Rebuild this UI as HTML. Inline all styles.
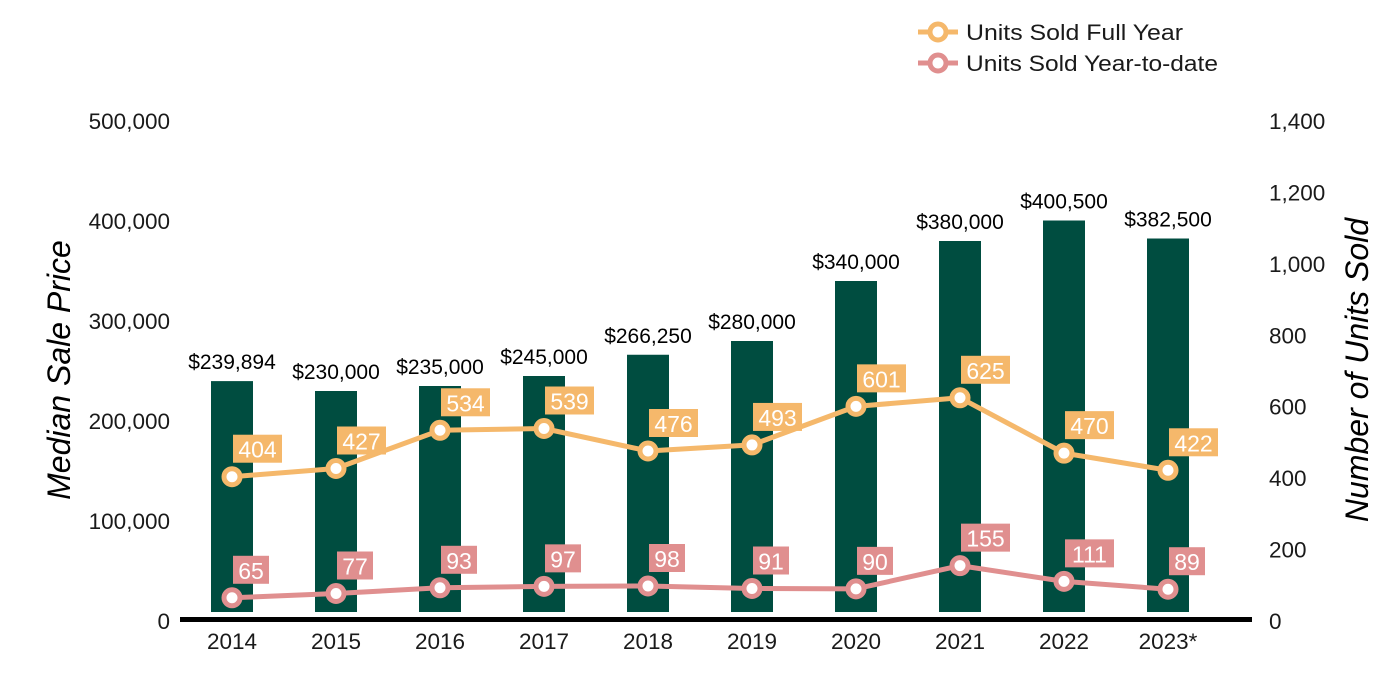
<!DOCTYPE html>
<html><head><meta charset="utf-8">
<style>
html,body{margin:0;padding:0;background:#fff;}
svg{display:block;font-family:"Liberation Sans",Arial,sans-serif;}
</style></head>
<body>
<svg id="chart" width="1400" height="700" viewBox="0 0 1400 700" xmlns="http://www.w3.org/2000/svg">
  <g id="legend">
    <g>
      <line x1="918" y1="32" x2="958" y2="32" stroke="#F5B86B" stroke-width="5"/>
      <circle cx="938" cy="32" r="8" fill="#fff" stroke="#F5B86B" stroke-width="5"/>
      <text x="966" y="40" font-size="22" fill="#1a1a1a" textLength="217" lengthAdjust="spacingAndGlyphs">Units Sold Full Year</text>
    </g>
    <g>
      <line x1="918" y1="63" x2="958" y2="63" stroke="#E08F8F" stroke-width="5"/>
      <circle cx="938" cy="63" r="8" fill="#fff" stroke="#E08F8F" stroke-width="5"/>
      <text x="966" y="71" font-size="22" fill="#1a1a1a" textLength="252" lengthAdjust="spacingAndGlyphs">Units Sold Year-to-date</text>
    </g>
  </g>
  <text transform="translate(70,370) rotate(-90)" text-anchor="middle" font-size="32" font-style="italic" fill="#000">Median Sale Price</text>
  <text transform="translate(1368,370) rotate(-90)" text-anchor="middle" font-size="32" font-style="italic" fill="#000">Number of Units Sold</text>
  <g id="axes"></g>
  <g id="bars"></g>
  <g id="lines"></g>
</svg>
<script>
const categories = ["2014","2015","2016","2017","2018","2019","2020","2021","2022","2023*"];
const medianPrice = [239894,230000,235000,245000,266250,280000,340000,380000,400500,382500];
const priceLabels = ["$239,894","$230,000","$235,000","$245,000","$266,250","$280,000","$340,000","$380,000","$400,500","$382,500"];
const unitsFullYear = [404,427,534,539,476,493,601,625,470,422];
const unitsYTD = [65,77,93,97,98,91,90,155,111,89];
const leftTicks = [0,100000,200000,300000,400000,500000];
const rightTicks = [0,200,400,600,800,1000,1200,1400];

const NS = "http://www.w3.org/2000/svg";
const base = 621, top0 = 121;
const yL = v => base - (v/500000)*(base-top0);
const yR = v => base - (v/1400)*(base-top0);
const xC = i => 232 + i*104;
function mk(tag, attrs, parent, text){
  const e = document.createElementNS(NS, tag);
  for (const k in attrs) e.setAttribute(k, attrs[k]);
  if (text !== undefined) e.textContent = text;
  parent.appendChild(e); return e;
}
const axes = document.getElementById('axes');
leftTicks.forEach(t=>{
  const e = mk('text',{x:170,y:yL(t)+8,'text-anchor':'end','font-size':22.5,fill:'#1a1a1a'},axes,t.toLocaleString('en-US'));
  
  
});
rightTicks.forEach(t=>{
  const e = mk('text',{x:1269,y:yR(t)+8,'text-anchor':'start','font-size':22.5,fill:'#1a1a1a'},axes,t.toLocaleString('en-US'));
  
  
});
categories.forEach((c,i)=>{
  const e = mk('text',{x:xC(i),y:649,'text-anchor':'middle','font-size':22.5,fill:'#1a1a1a'},axes,c);
  
  
});
const bars = document.getElementById('bars');
medianPrice.forEach((v,i)=>{
  const r = mk('rect',{x:xC(i)-21,y:yL(v),width:42,height:Math.max(0,612-yL(v)),fill:'#004D40'},bars);
  
  
  const t = mk('text',{x:xC(i),y:yL(v)-12,'text-anchor':'middle','font-size':21,fill:'#000'},bars,priceLabels[i]);
  
  
});
const axisLine = mk('line',{x1:180,y1:619.5,x2:1252,y2:619.5,stroke:'#000','stroke-width':5},axes);



const lines = document.getElementById('lines');
function series(vals,color,name){
  const pts = vals.map((v,i)=>xC(i)+','+yR(v)).join(' ');
  const pl = mk('polyline',{points:pts,fill:'none',stroke:color,'stroke-width':5,'stroke-linejoin':'round'},lines);
  
  
  vals.forEach((v,i)=>{
    const c = mk('circle',{cx:xC(i),cy:yR(v),r:8,fill:'#fff',stroke:color,'stroke-width':5},lines);
    
    
    const s = String(v);
    const w = s.length*13+10;
    const bx = xC(i)+1, by = yR(v)-42;
    const b = mk('rect',{x:bx,y:by,width:w,height:28,fill:color},lines);
    
    
    const t = mk('text',{x:bx+w/2,y:by+23,'text-anchor':'middle','font-size':23,fill:'#fff'},lines,s);
    
    
  });
}
series(unitsFullYear,'#F5B86B','full-year');
series(unitsYTD,'#E08F8F','ytd');
</script>
</body></html>
